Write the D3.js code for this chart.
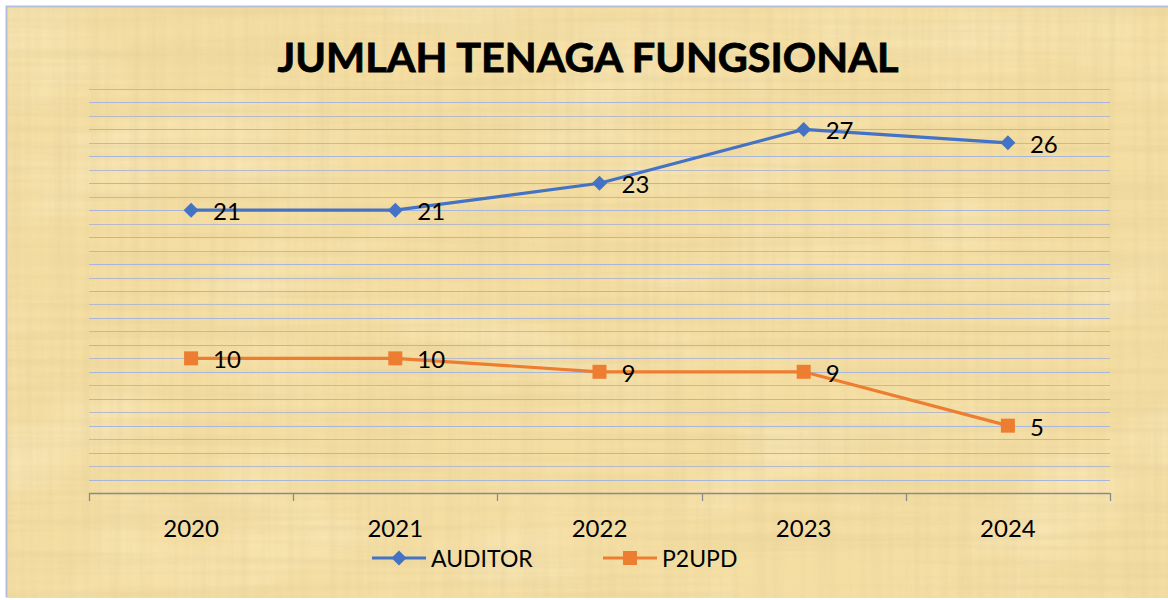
<!DOCTYPE html>
<html><head><meta charset="utf-8">
<script src="https://cdn.jsdelivr.net/npm/d3@7"></script>
<style>html,body{margin:0;padding:0;background:#fff;}svg{display:block;}</style>
</head><body>
<script>
const title = "JUMLAH TENAGA FUNGSIONAL";
const categories = ["2020","2021","2022","2023","2024"];
const auditor = [21,21,23,27,26];
const p2upd = [10,10,9,9,5];
const seriesNames = ["AUDITOR","P2UPD"];
const yMax = 30;

const W=1168,H=600;
const svg=d3.select("body").append("svg").attr("width",W).attr("height",H);
const defs=svg.append("defs");
function fib(id,freq,seed,rgb,k,b){
  const f=defs.append("filter").attr("id",id).attr("x",0).attr("y",0).attr("width","100%").attr("height","100%");
  f.append("feTurbulence").attr("type","fractalNoise").attr("baseFrequency",freq).attr("numOctaves",3).attr("seed",seed);
  f.append("feColorMatrix").attr("type","matrix").attr("values",`0 0 0 0 ${rgb[0]}  0 0 0 0 ${rgb[1]}  0 0 0 0 ${rgb[2]}  ${k} 0 0 0 ${b}`);
}
fib("fibH","0.003 0.12",3,[0.74,0.6,0.3],1.8,-0.7);
fib("fibV","0.12 0.003",7,[0.76,0.62,0.32],1.8,-0.7);
fib("blot","0.006 0.01",11,[1,0.96,0.8],1.6,-0.75);

// background
const bg=(attrs)=>{const r=svg.append("rect").attr("x",6).attr("y",6).attr("width",W-6).attr("height",H-8);Object.entries(attrs).forEach(([k,v])=>r.attr(k,v));};
bg({fill:"#F5DEA2"});
bg({filter:"url(#blot)",opacity:0.45});
bg({filter:"url(#fibH)",opacity:0.4});
bg({filter:"url(#fibV)",opacity:0.4});
svg.append("path").attr("d",`M6.5,${H-3} V6.5 H${W}`).attr("fill","none").attr("stroke","#b4bfe0").attr("stroke-width",2);

const plot={l:89,r:1110,t:89,b:493};
const x=d3.scaleBand().domain(categories).range([plot.l,plot.r]);
const y=d3.scaleLinear().domain([0,yMax]).range([plot.b,plot.t]);

// gridlines
svg.append("g").selectAll("line").data(d3.range(1,yMax+1)).join("line")
 .attr("x1",plot.l).attr("x2",plot.r)
 .attr("y1",d=>Math.round(y(d))+0.5).attr("y2",d=>Math.round(y(d))+0.5)
 .attr("stroke",(d,i)=>i%2?"#b6bac8":"#a8b6da").attr("stroke-width",1.2);

// x axis
svg.append("line").attr("x1",plot.l).attr("x2",plot.r).attr("y1",plot.b+0.5).attr("y2",plot.b+0.5).attr("stroke","#8a8a8a").attr("stroke-width",1.3);
const bounds=categories.map(c=>x(c)).concat([x(categories[categories.length-1])+x.bandwidth()]);
svg.selectAll("line.tk").data(bounds).join("line").attr("class","tk")
 .attr("x1",d=>Math.round(d)+0.5).attr("x2",d=>Math.round(d)+0.5)
 .attr("y1",plot.b).attr("y2",plot.b+8).attr("stroke","#8a8a8a").attr("stroke-width",1.3);
svg.selectAll("text.xl").data(categories).join("text").attr("class","xl")
 .attr("x",d=>x(d)+x.bandwidth()/2).attr("y",537)
 .attr("text-anchor","middle").attr("font-family","Lato, 'Noto Sans', sans-serif").attr("font-size",24)
 .attr("fill","#000").text(d=>d);

// title
svg.append("text").attr("x",588).attr("y",72).attr("text-anchor","middle")
 .attr("font-family","Lato, 'Open Sans', sans-serif").attr("font-weight","bold").attr("font-size",40)
 .attr("fill","#000").attr("stroke","#000").attr("stroke-width",0.8)
 .attr("textLength",621).attr("lengthAdjust","spacingAndGlyphs").text(title);

const cx=d=>x(d)+x.bandwidth()/2;
const line=d3.line().x((d,i)=>cx(categories[i])).y(d=>y(d));
const series=[{name:seriesNames[0],vals:auditor,color:"#4472C4",shape:"diamond"},
              {name:seriesNames[1],vals:p2upd,color:"#ED7D31",shape:"square"}];
const diamond="M0,-7.5L7.5,0L0,7.5L-7.5,0Z";
const square="M-7,-7H7V7H-7Z";
series.forEach(s=>{
  svg.append("path").datum(s.vals).attr("d",line).attr("fill","none").attr("stroke",s.color).attr("stroke-width",3.2).attr("stroke-linejoin","round");
  svg.selectAll(null).data(s.vals).join("path")
   .attr("transform",(d,i)=>`translate(${cx(categories[i])},${y(d)})`)
   .attr("d",s.shape==="diamond"?diamond:square).attr("fill",s.color);
  svg.selectAll(null).data(s.vals).join("text")
   .attr("x",(d,i)=>cx(categories[i])+22).attr("y",d=>y(d)+10)
   .attr("font-family","Lato, 'Noto Sans', sans-serif").attr("font-size",24).attr("fill","#000")
   .text(d=>d);
});

// legend
const leg=[{x0:372,tx:431},{x0:603,tx:662}];
series.forEach((s,i)=>{
  const L=leg[i];
  svg.append("line").attr("x1",L.x0).attr("x2",L.x0+54).attr("y1",558).attr("y2",558).attr("stroke",s.color).attr("stroke-width",3.2);
  svg.append("path").attr("transform",`translate(${L.x0+27},558)`).attr("d",s.shape==="diamond"?diamond:square).attr("fill",s.color);
  svg.append("text").attr("x",L.tx).attr("y",567).attr("font-family","Lato, 'Noto Sans', sans-serif").attr("font-size",23).attr("fill","#000").text(s.name);
});
</script>
</body></html>
